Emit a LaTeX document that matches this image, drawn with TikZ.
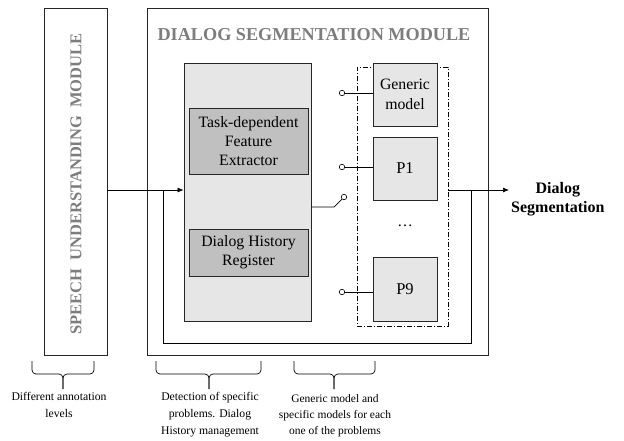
\documentclass[tikz,border=0pt]{standalone}
\usepackage{fontspec}
\setmainfont{Liberation Serif}
\usetikzlibrary{arrows.meta}
\definecolor{txtgray}{RGB}{125,125,125}
\definecolor{lightfill}{RGB}{230,230,230}
\definecolor{darkfill}{RGB}{192,192,192}
\begin{document}
\begin{tikzpicture}[x=1pt,y=-1pt,
  box/.style={draw=black!85, line width=0.8pt, inner sep=0pt},
  modelbox/.style={box, fill=lightfill, minimum width=64pt, align=center,
    font=\fontsize{15.8}{19.5}\selectfont},
  innerbox/.style={box, fill=darkfill, minimum width=119pt, align=center,
    font=\fontsize{15.8}{19}\selectfont},
  contact/.style={circle, draw=black, line width=0.6pt, fill=white, inner sep=0pt, minimum size=5.5pt},
  wire/.style={draw=black, line width=0.7pt},
  arr/.style={wire, -{Latex[length=6pt,width=5pt]}},
  note/.style={align=center, inner sep=0pt, anchor=north,
    font=\fontsize{11.7}{16.8}\selectfont},
  brace/.style={draw=black, line width=0.7pt, rounded corners=4pt}
]
\useasboundingbox (0,0) rectangle (624,440);

% left module
\node[box, minimum width=63pt, minimum height=347pt] (sum) at (75.5,181.5) {};
\node[rotate=90, text=txtgray, font=\fontsize{16.5}{18}\bfseries] (sumlbl) at (76,184)
  {SPEECH\ \ UNDERSTANDING\ \ MODULE};

% main module
\node[box, minimum width=341pt, minimum height=347pt] (main) at (317.5,181.5) {};
\node[text=txtgray, font=\fontsize{18.2}{20}\bfseries] (title) at (314,35)
  {DIALOG SEGMENTATION MODULE};

% feature extraction container
\node[box, fill=lightfill, minimum width=127pt, minimum height=258pt] (cont) at (247.5,192) {};
\node[innerbox, minimum height=66pt] (task) at (248.5,141) {Task-dependent\\Feature\\Extractor};
\node[innerbox, minimum height=47pt] (hist) at (248.5,252.5) {Dialog History\\Register};

% dash-dotted model group
\node[draw=black, line width=0.7pt, dash pattern=on 5pt off 2pt on 1pt off 2pt,
  minimum width=91pt, minimum height=259pt, inner sep=0pt] (grp) at (402.5,196.5) {};
\node[modelbox, minimum height=63pt] (gen) at (405,94.5) {Generic\\model};
\node[modelbox, minimum height=63pt, font=\fontsize{16.5}{19}\selectfont] (p1) at (405,168.5) {P1};
\node[modelbox, minimum height=64pt, font=\fontsize{16.5}{19}\selectfont] (p9) at (405,289) {P9};
\node[font=\fontsize{15.5}{19}\selectfont] (dots) at (405,226) {\dots};

% contacts
\node[contact] (cg) at (342,93) {};
\node[contact] (c1) at (342,167) {};
\node[contact] (c9) at (342,292) {};
\node[contact] (cs) at (344,197) {};
\draw[wire] (cg) -- (gen.west |- cg);
\draw[wire] (c1) -- (p1.west |- c1);
\draw[wire] (c9) -- (p9.west |- c9);
\coordinate (sw) at (334,207);
\draw[wire] (cont.east |- sw) -- (sw) -- (cs);

% input, loop and output
\coordinate (yl) at (0,190);
\coordinate (jl) at (163,190);
\coordinate (jr) at (471,190);
\coordinate (bl) at (163,343);
\coordinate (br) at (471,343);
\draw[arr] (sum.east |- yl) -- (cont.west |- yl);
\draw[wire] (jl) -- (bl) -- (br) -- (jr);
\node[align=center, inner sep=2pt, anchor=west, font=\fontsize{16}{18.5}\bfseries] (out) at (509,199)
  {Dialog\\Segmentation};
\draw[arr] (grp.east |- yl) -- (out.west |- yl);

% braces
\draw[brace] (32,361) |- (63,374) -- (63,389);
\draw[brace] (94,361) |- (63,374) -- (63,389);
\draw[brace] (156,361) |- (209,374) -- (209,389);
\draw[brace] (261,361) |- (209,374) -- (209,389);
\draw[brace] (294,361) |- (334,374) -- (334,389);
\draw[brace] (375,361) |- (334,374) -- (334,389);

\node[note] (n1) at (59,392) {Different annotation\\levels};
\node[note] (n2) at (210,392) {Detection of specific\\problems. Dialog\\History management};
\node[note, font=\fontsize{11.5}{16}\selectfont] (n3) at (335,394) {Generic model and\\specific models for each\\one of the problems};
\end{tikzpicture}
\end{document}
